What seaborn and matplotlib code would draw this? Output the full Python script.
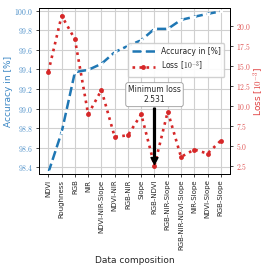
import numpy as np
import pandas as pd
import matplotlib
matplotlib.use('Agg')
import matplotlib.pyplot as plt
import seaborn as sns
from matplotlib.ticker import FuncFormatter

categories = ['NDVI', 'Roughness', 'RGB', 'NIR', 'NDVI-NIR-Slope', 'NDVI-NIR', 'RGB-NIR', 'Slope',
              'RGB-NDVI', 'RGB-NIR-Slope', 'RGB-NIR-NDVI-Slope', 'NIR-Slope', 'NDVI-Slope', 'RGB-Slope']
accuracy = [98.345, 98.758, 99.373, 99.396, 99.458, 99.577, 99.642, 99.70,
            99.816, 99.816, 99.908, 99.94, 99.97, 99.995]
loss = [14.29, 21.29, 18.33, 8.96, 11.99, 6.13, 6.34, 8.96,
        2.531, 9.30, 3.63, 4.55, 4.05, 5.67]

blue = '#1f77b4'
red = '#d62728'

sns.set_style('whitegrid')
plt.rcParams['font.family'] = ['DejaVu Sans']
plt.rcParams['mathtext.fontset'] = 'cm'

df = pd.DataFrame({'cat': categories, 'acc': accuracy, 'loss': loss, 'pos': np.arange(len(categories))})

fig = plt.figure(figsize=(2.66, 2.66), dpi=100)
ax = fig.add_axes([0.147, 0.346, 0.718, 0.624])
ax2 = ax.twinx()

sns.lineplot(data=df, x='pos', y='acc', ax=ax, color=blue, linestyle='--', linewidth=1.8,
             marker='x', markersize=3.5, markeredgewidth=1, label='Accuracy in [%]', legend=False)
sns.lineplot(data=df, x='pos', y='loss', ax=ax2, color=red, linestyle=':', linewidth=1.9,
             marker='o', markersize=3.5, markeredgewidth=0, label='Loss [$10^{-3}$]', legend=False)

ax.set_xlim(-0.7, len(categories) - 0.3)
ax.set_ylim(98.33, 100.03)
ax2.set_ylim(1.5, 22.25)
ax.set_xticks(df['pos'])
ax.set_xticklabels(categories, rotation=90, fontsize=5)
ax.set_yticks(np.arange(98.4, 100.01, 0.2))
ax2.set_yticks(np.arange(2.5, 20.1, 2.5))
ax.yaxis.set_major_formatter(FuncFormatter(lambda v, p: '$%.1f$' % v))
ax2.yaxis.set_major_formatter(FuncFormatter(lambda v, p: '$%.1f$' % v))
ax.tick_params(axis='y', labelsize=5.5, labelcolor='#4a8ec8', length=2.5, width=0.6, pad=1.5, left=True)
ax.tick_params(axis='x', length=2.5, width=0.6, pad=1.5, bottom=True)
ax2.tick_params(axis='y', labelsize=5.5, labelcolor='#e05555', length=2.5, width=0.6, pad=1.5, right=True)

ax.grid(True, color='#d0d0d0', linewidth=0.8)
ax2.grid(False)
for a in (ax, ax2):
    for s in a.spines.values():
        s.set_color('black')
        s.set_linewidth(0.7)

ax.set_xlabel('Data composition', fontsize=6.5, labelpad=4)
ax.set_ylabel('Accuracy in [%]', fontsize=6.5, color='#3a86c4', labelpad=1)
ax2.set_ylabel('Loss [$10^{-3}$]', fontsize=6.5, color='#e04040', labelpad=1)

imin = int(np.argmin(loss))
ax2.annotate('Minimum loss\n%.3f' % loss[imin], xy=(imin, loss[imin]), xytext=(imin, 10.2),
             ha='center', va='bottom', fontsize=5.5,
             bbox=dict(boxstyle='round,pad=0.3', fc='white', ec='#999999', lw=0.6),
             arrowprops=dict(facecolor='black', edgecolor='black', width=1.3, headwidth=5, headlength=5, shrink=0.02))

h1, l1 = ax.get_legend_handles_labels()
h2, l2 = ax2.get_legend_handles_labels()
ax2.legend(h1 + h2, l1 + l2, loc='upper right', bbox_to_anchor=(0.99, 0.81), fontsize=5.5,
           frameon=True, framealpha=0.9, edgecolor='#cccccc', handlelength=3, borderpad=0.5)

fig.savefig('out.png', dpi=100)
